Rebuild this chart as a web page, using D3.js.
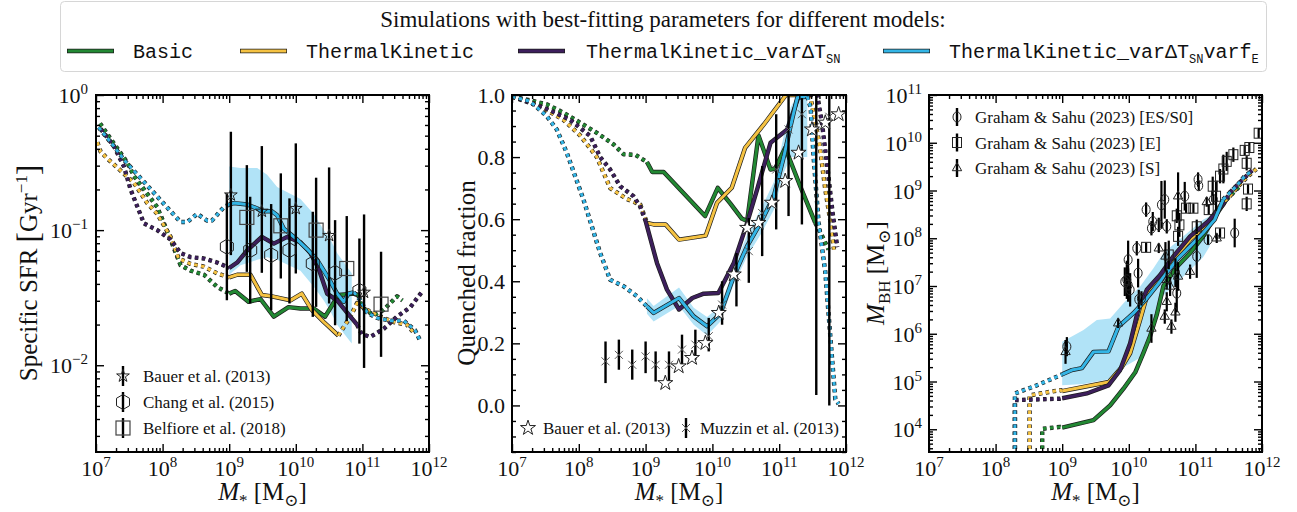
<!DOCTYPE html>
<html>
<head>
<meta charset="utf-8">
<script src="https://cdn.jsdelivr.net/npm/d3@7/dist/d3.min.js"></script>
<style>
  body { margin: 0; background: #fff; }
  text { font-family: "Liberation Serif", "DejaVu Serif", serif; fill: #111; }
  text.mono { font-family: "Liberation Mono", "DejaVu Sans Mono", monospace; }
</style>
</head>
<body>
<svg id="chart" width="1297" height="512"></svg>
<script>
// masses are log10(M*/Msun); sSFR [Gyr^-1] and M_BH [Msun] stored as log10 as well

// ---- panel 1: specific SFR ----
const sfrBasic = [[7.06,-0.21],[7.27,-0.36],[7.47,-0.5],[7.57,-0.6],[7.92,-0.83],[8.12,-1.07],[8.27,-1.26],[8.42,-1.3],[8.62,-1.33],[8.82,-1.42],[9.0,-1.47],[9.09,-1.45],[9.29,-1.53],[9.47,-1.51],[9.67,-1.64],[9.89,-1.57],[10.07,-1.58],[10.27,-1.58],[10.44,-1.64],[10.64,-1.48],[10.87,-1.47],[10.94,-1.48],[10.99,-1.57],[11.17,-1.63],[11.32,-1.59],[11.52,-1.49],[11.6,-1.52]];
const sfrTK = [[7.02,-0.35],[7.07,-0.42],[7.17,-0.47],[7.37,-0.56],[7.57,-0.65],[7.77,-0.8],[7.92,-0.88],[8.12,-1.05],[8.24,-1.21],[8.42,-1.25],[8.62,-1.27],[8.82,-1.32],[9.0,-1.35],[9.12,-1.33],[9.32,-1.33],[9.49,-1.48],[9.64,-1.49],[9.92,-1.52],[10.09,-1.47],[10.24,-1.59],[10.42,-1.68],[10.64,-1.78],[10.69,-1.74],[10.82,-1.64],[10.92,-1.54],[11.07,-1.59],[11.27,-1.64],[11.47,-1.68],[11.67,-1.7],[11.79,-1.77]];
const sfrTKvar = [[7.07,-0.25],[7.27,-0.38],[7.42,-0.53],[7.52,-0.7],[7.72,-0.95],[7.92,-1.0],[8.12,-1.07],[8.27,-1.17],[8.42,-1.2],[8.62,-1.21],[8.82,-1.24],[9.0,-1.28],[9.12,-1.24],[9.27,-1.15],[9.49,-1.05],[9.67,-1.1],[9.87,-1.05],[10.07,-1.09],[10.22,-1.17],[10.34,-1.28],[10.47,-1.47],[10.62,-1.52],[10.77,-1.61],[10.92,-1.7],[10.99,-1.77],[11.12,-1.79],[11.32,-1.73],[11.52,-1.64],[11.72,-1.57],[11.89,-1.46]];
const sfrTKvarFe = [[7.04,-0.24],[7.27,-0.38],[7.42,-0.48],[7.77,-0.67],[8.12,-0.86],[8.27,-0.94],[8.37,-0.94],[8.52,-0.88],[8.67,-0.93],[8.74,-0.93],[8.92,-0.83],[9.0,-0.81],[9.07,-0.8],[9.27,-0.81],[9.42,-0.84],[9.49,-0.86],[9.64,-0.86],[9.72,-0.89],[9.82,-0.99],[10.02,-1.07],[10.17,-1.14],[10.32,-1.22],[10.42,-1.3],[10.52,-1.38],[10.62,-1.47],[10.72,-1.53],[10.79,-1.47],[10.87,-1.46],[10.97,-1.52],[11.07,-1.61],[11.22,-1.65],[11.42,-1.67],[11.62,-1.67],[11.79,-1.74],[11.87,-1.82]];
const sfrSolid = { basic: [9.0, 10.94], tk: [9.0, 10.64], tkVar: [9.0, 10.92], tkVarFe: [9.0, 10.87] };
const sfrBandM = [9.0, 9.17, 9.42, 9.57, 9.72, 10.07, 10.27, 10.42, 10.52, 10.62, 10.84];
const sfrBandHi = [-0.53, -0.54, -0.54, -0.59, -0.68, -0.77, -0.88, -1.0, -1.07, -1.17, -1.32];
const sfrBandLo = [-1.33, -1.26, -1.22, -1.2, -1.22, -1.3, -1.42, -1.52, -1.6, -1.7, -1.84];

const bauerM = [9.025, 9.49, 10.0, 10.5, 11.025];
const bauerSsfr = [-0.74, -0.86, -0.84, -1.04, -1.46];
const bauerLo = [-1.185, -1.316, -1.321, -1.543, -2.02];
const bauerHi = [-0.272, -0.378, -0.358, -0.536, -0.884];
const changM = [8.965, 9.315, 9.63, 9.905, 10.255, 10.59, 10.955];
const changSsfr = [-1.123, -1.148, -1.185, -1.148, -1.247, -1.316, -1.449];
const changLo = [-1.519, -1.543, -1.593, -1.543, -1.642, -1.704, -1.84];
const changHi = [-0.728, -0.753, -0.807, -0.765, -0.864, -0.926, -1.062];
const belfioreM = [9.265, 9.775, 10.305, 10.765, 11.28];
const belfioreSsfr = [-0.906, -0.968, -1.0, -1.284, -1.548];
const belfioreLo = [-1.309, -1.358, -1.568, -1.674, -1.938];
const belfioreHi = [-0.519, -0.58, -0.612, -0.896, -1.16];

// ---- panel 2: quenched fraction ----
const qBasic = [[7.0,0.995],[7.27,0.983],[7.52,0.97],[7.77,0.943],[8.02,0.911],[8.27,0.878],[8.52,0.841],[8.67,0.809],[8.85,0.807],[9.02,0.784],[9.1,0.752],[9.27,0.752],[9.89,0.61],[10.08,0.701],[10.27,0.65],[10.44,0.602],[10.52,0.594],[10.69,0.87],[10.87,0.76],[10.94,0.763],[11.09,0.83],[11.315,0.706],[11.54,0.588],[11.62,0.556],[11.74,0.502]];
const qTK = [[7.0,0.995],[7.37,0.97],[7.77,0.92],[8.02,0.87],[8.27,0.8],[8.47,0.7],[8.72,0.665],[8.92,0.647],[9.02,0.588],[9.12,0.583],[9.3,0.583],[9.5,0.534],[9.9,0.547],[10.07,0.653],[10.29,0.701],[10.49,0.83],[10.77,0.905],[11.07,0.991],[11.1,1.0],[11.44,1.0],[11.47,0.99],[11.6,0.846],[11.69,0.696],[11.77,0.588],[11.82,0.502]];
const qTKvar = [[7.0,0.995],[7.52,0.955],[7.87,0.92],[8.17,0.868],[8.32,0.8],[8.47,0.76],[8.62,0.706],[8.82,0.674],[8.92,0.64],[9.0,0.594],[9.17,0.459],[9.32,0.373],[9.5,0.309],[9.7,0.346],[9.87,0.36],[10.09,0.362],[10.32,0.459],[10.52,0.588],[10.67,0.696],[10.87,0.846],[11.12,0.889],[11.29,0.995],[11.45,1.0],[11.57,1.0],[11.64,0.91],[11.72,0.77],[11.8,0.62],[11.87,0.51]];
const qTKvarFe = [[7.0,0.995],[7.27,0.98],[7.52,0.932],[7.67,0.889],[7.82,0.814],[8.07,0.663],[8.32,0.491],[8.47,0.405],[8.67,0.384],[8.87,0.352],[9.02,0.319],[9.12,0.298],[9.5,0.346],[9.72,0.287],[9.92,0.255],[10.12,0.296],[10.32,0.416],[10.52,0.513],[10.72,0.588],[10.92,0.674],[11.07,0.802],[11.17,0.9],[11.27,0.991],[11.42,0.995],[11.47,0.96],[11.515,0.8],[11.59,0.59],[11.69,0.43],[11.77,0.21],[11.84,0.02],[11.89,0.005]];
const qSolid = { basic: [9.02, 11.54], tk: [9.02, 11.44], tkVar: [9.0, 11.45], tkVarFe: [9.02, 11.42] };
const qBandM = [9.02, 9.12, 9.5, 9.72, 9.92, 10.12, 10.32, 10.52, 10.72, 10.92, 11.07, 11.17, 11.27, 11.42];
const qBandLo = [0.295, 0.27, 0.32, 0.26, 0.225, 0.27, 0.39, 0.48, 0.55, 0.63, 0.75, 0.8, 0.8, 0.8];
const qBandHi = [0.345, 0.32, 0.38, 0.315, 0.285, 0.32, 0.44, 0.55, 0.63, 0.72, 0.87, 0.96, 1.0, 1.0];

const bauerQM = [9.295, 9.495, 9.695, 9.895, 10.095, 10.32, 10.52, 10.69, 10.89, 11.09, 11.29, 11.49, 11.69, 11.89];
const bauerQ = [0.072, 0.126, 0.153, 0.201, 0.298, 0.422, 0.572, 0.588, 0.653, 0.723, 0.814, 0.889, 0.911, 0.938];
const muzzinM = [8.4, 8.6, 8.8, 9.0, 9.15, 9.35, 9.545, 9.745, 9.945, 10.145, 10.36, 10.545, 10.745, 10.955, 11.14, 11.34, 11.555, 11.75];
const muzzinQ = [0.142, 0.163, 0.131, 0.158, 0.131, 0.131, 0.18, 0.196, 0.223, 0.325, 0.416, 0.497, 0.62, 0.76, 0.889, 0.938, 0.9, 0.93];
const muzzinLo = [0.072, 0.115, 0.083, 0.104, 0.077, 0.072, 0.126, 0.147, 0.174, 0.26, 0.319, 0.395, 0.481, 0.567, 0.61, 0.583, 0.034, 0.0];
const muzzinHi = [0.206, 0.212, 0.18, 0.206, 0.174, 0.174, 0.228, 0.244, 0.282, 0.4, 0.491, 0.604, 0.771, 0.938, 0.997, 0.99, 1.0, 1.0];

// ---- panel 3: black hole mass ----
const bhBasic = [[8.7,3.0],[8.7,4.01],[8.97,4.05],[9.0,4.035],[9.47,4.19],[9.72,4.5],[9.92,4.85],[10.1,5.2],[10.22,5.6],[10.32,5.95],[10.42,6.4],[10.52,7.0],[10.72,7.4],[10.92,7.69],[11.115,8.04],[11.265,8.39],[11.465,8.81],[11.565,8.95],[11.665,9.09]];
const bhTK = [[8.51,3.0],[8.51,4.71],[8.97,4.82],[9.0,4.8],[9.7,4.99],[9.9,5.31],[10.02,5.59],[10.17,6.29],[10.27,6.78],[10.47,7.16],[10.67,7.55],[10.92,7.97],[11.17,8.28],[11.365,8.67],[11.515,8.88],[11.665,9.12],[11.815,9.33],[11.915,9.45]];
const bhTKvar = [[8.29,3.0],[8.29,4.61],[8.97,4.64],[9.0,4.65],[9.37,4.75],[9.695,4.92],[9.87,5.24],[10.02,5.8],[10.14,6.5],[10.27,6.92],[10.47,7.23],[10.67,7.62],[10.92,8.04],[11.19,8.35],[11.415,8.7],[11.515,8.95],[11.69,9.2],[11.865,9.44]];
const bhTKvarFe = [[8.29,3.0],[8.29,4.75],[8.62,4.92],[8.97,5.13],[9.0,5.15],[9.145,5.24],[9.295,5.28],[9.47,5.62],[9.695,5.63],[9.845,6.15],[10.07,6.43],[10.27,6.74],[10.49,7.13],[10.72,7.55],[10.92,7.83],[11.115,8.11],[11.29,8.39],[11.415,8.81],[11.465,8.88],[11.615,9.09],[11.74,9.3],[11.84,9.4]];
const bhSolid = { basic: [9.0, 11.465], tk: [9.0, 11.365], tkVar: [9.0, 11.415], tkVarFe: [9.0, 11.415] };
const bhBandM = [9.0, 9.32, 9.52, 9.72, 9.92, 10.17, 10.37, 10.52, 10.82, 11.115, 11.215];
const bhBandHi = [5.83, 6.08, 6.29, 6.32, 6.64, 6.99, 7.37, 7.69, 8.04, 8.39, 8.46];
const bhBandLo = [4.92, 4.95, 5.0, 5.05, 5.3, 5.5, 6.2, 6.8, 7.2, 7.6, 7.83];

// Graham & Sahu (2023): [log M*, log M_BH, error in dex]
const gsEsS0 = [[9.07,5.73,0.2],[9.97,7.13,0.4],[9.99,7.02,0.35],[10.14,7.27,0.3],[10.19,6.74,0.15],[10.12,7.79,0.15],[9.99,7.55,0.4],[9.94,7.09,0.3],[10.02,6.92,0.35],[10.15,6.72,0.2],[10.26,8.6,0.15],[10.36,8.35,0.2],[10.34,8.21,0.15],[10.49,8.7,0.5],[10.54,8.81,0.4],[10.57,8.25,0.15],[10.84,8.88,0.3],[11.04,9.23,0.15],[11.05,9.1,0.1],[11.02,7.62,0.45],[11.19,7.97,0.1],[11.59,8.11,0.3],[10.72,6.85,0.4],[10.45,8.28,0.15],[11.27,8.81,0.1],[10.7,7.28,0.3]];
const gsE = [[10.26,7.81,0.1],[10.72,8.47,0.15],[10.76,8.28,0.25],[10.74,8.04,0.2],[10.86,8.63,0.1],[10.97,8.63,0.1],[11.02,8.24,0.15],[11.37,8.11,0.1],[11.37,9.3,0.15],[11.42,9.45,0.3],[11.47,9.61,0.2],[11.57,9.75,0.15],[11.74,9.84,0.1],[11.77,9.57,0.15],[11.79,9.03,0.1],[11.77,8.72,0.15],[11.81,9.9,0.1],[11.95,10.2,0.1],[11.26,9.09,0.2],[11.31,8.88,0.3],[10.6,7.65,0.3],[11.2,8.6,0.1]];
const gsS = [[9.05,5.62,0.25],[9.84,6.22,0.1],[10.45,7.79,0.1],[10.55,7.62,0.3],[10.92,7.3,0.15],[10.57,7.13,0.2],[10.62,6.99,0.2],[10.57,6.67,0.2],[10.54,6.36,0.15],[10.64,6.15,0.15],[10.34,6.11,0.3],[10.74,7.2,0.3],[10.74,8.88,0.5],[11.17,8.76,0.1],[11.32,8.0,0.1],[10.7,6.45,0.2]];

const modelKeys = ['basic', 'tk', 'tkVar', 'tkVarFe'];
const modelLabels = ['Basic', 'ThermalKinetic', 'ThermalKinetic_varΔT', 'ThermalKinetic_varΔT'];
const colors = { basic: '#228833', tk: '#f5c242', tkVar: '#3d1f5c', tkVarFe: '#33b5e6' };
const bandColor = '#b1e3f7';

const svg = d3.select('#chart');
const frameTop = 95, frameBottom = 452;
const boxes = [{ x0: 96, x1: 429 }, { x0: 512, x1: 846 }, { x0: 929, x1: 1262 }];

function logMinors(lo, hi) {
  const out = [];
  for (let e = Math.floor(Math.log10(lo)); e <= Math.ceil(Math.log10(hi)); e++)
    for (let k = 2; k <= 9; k++) {
      const v = k * Math.pow(10, e);
      if (v > lo && v < hi) out.push(v);
    }
  return out;
}

function makePanel(i, y) {
  const p = boxes[i];
  const x = d3.scaleLog().domain([1e7, 1e12]).range([p.x0, p.x1]);
  y.range([frameBottom, frameTop]);
  svg.append('clipPath').attr('id', 'clip' + i).append('rect')
    .attr('x', p.x0).attr('y', frameTop).attr('width', p.x1 - p.x0).attr('height', frameBottom - frameTop);
  const g = svg.append('g');
  const plot = g.append('g').attr('clip-path', `url(#clip${i})`);
  return { x, y, g, plot, p };
}

function drawFrame(P, yMaj, yMin) {
  const { x, y, g, p } = P;
  const xMaj = [1e7, 1e8, 1e9, 1e10, 1e11, 1e12];
  const xMin = logMinors(1e7, 1e12);
  const tick = (axis, vals, size, tr) => g.append('g').attr('transform', tr)
    .call(axis.tickValues(vals).tickSize(-size).tickFormat(''))
    .call(s => s.select('.domain').remove())
    .selectAll('line').attr('stroke', '#000').attr('stroke-width', 1.4);
  [[xMaj, 8], [xMin, 4]].forEach(([v, s]) => {
    tick(d3.axisBottom(x), v, s, `translate(0,${frameBottom})`);
    tick(d3.axisTop(x), v, s, `translate(0,${frameTop})`);
  });
  [[yMaj, 8], [yMin, 4]].forEach(([v, s]) => {
    tick(d3.axisLeft(y), v, s, `translate(${p.x0},0)`);
    tick(d3.axisRight(y), v, s, `translate(${p.x1},0)`);
  });
  g.append('rect').attr('x', p.x0).attr('y', frameTop).attr('width', p.x1 - p.x0)
    .attr('height', frameBottom - frameTop).attr('fill', 'none').attr('stroke', '#000').attr('stroke-width', 2);
  xMaj.forEach(v => powLabel(g, x(v), frameBottom + 24, Math.round(Math.log10(v)), 'middle'));
}

function powLabel(g, px, py, exp, anchor) {
  const t = g.append('text').attr('x', px).attr('y', py).attr('text-anchor', anchor).attr('font-size', 22);
  t.append('tspan').text('10');
  t.append('tspan').attr('dy', -9).attr('font-size', 15).text(exp < 0 ? '\u2212' + (-exp) : exp);
}

function drawModel(P, pts, range, color, fx, fy) {
  const line = d3.line().x(d => P.x(fx(d[0]))).y(d => P.y(fy(d[1])));
  const segs = [
    [pts.filter(d => d[0] <= range[0]), true],
    [pts.filter(d => d[0] >= range[0] && d[0] <= range[1]), false],
    [pts.filter(d => d[0] >= range[1]), true]
  ];
  segs.forEach(([seg, dotted]) => {
    if (seg.length < 2) return;
    P.plot.append('path').attr('d', line(seg)).attr('fill', 'none')
      .attr('stroke', '#1c1c1c').attr('stroke-width', 4.4)
      .attr('stroke-dasharray', dotted ? '3.5,3.5' : null).attr('stroke-linejoin', 'round');
    P.plot.append('path').attr('d', line(seg)).attr('fill', 'none')
      .attr('stroke', color).attr('stroke-width', 3)
      .attr('stroke-dasharray', dotted ? '3.5,3.5' : null).attr('stroke-linejoin', 'round');
  });
}

function drawBand(P, ms, lo, hi, fx, fy) {
  const area = d3.area().x((d, i) => P.x(fx(ms[i]))).y0((d, i) => P.y(fy(lo[i]))).y1((d, i) => P.y(fy(hi[i])));
  P.plot.append('path').attr('d', area(ms)).attr('fill', bandColor);
}

function hexPath(r) {
  const pts = d3.range(6).map(k => {
    const a = Math.PI / 2 + k * Math.PI / 3;
    return [r * Math.cos(a), r * Math.sin(a)];
  });
  return 'M' + pts.map(p => p.join(',')).join('L') + 'Z';
}

function marker(g, kind, px, py) {
  if (kind === 'star') {
    g.append('path').attr('d', d3.symbol(d3.symbolStar, 50)()).attr('transform', `translate(${px},${py})`)
      .attr('fill', 'none').attr('stroke', '#222').attr('stroke-width', 1);
  } else if (kind === 'starW') {
    g.append('path').attr('d', d3.symbol(d3.symbolStar, 70)()).attr('transform', `translate(${px},${py})`)
      .attr('fill', '#fff').attr('stroke', '#222').attr('stroke-width', 1);
  } else if (kind === 'hex') {
    g.append('path').attr('d', hexPath(7.5)).attr('transform', `translate(${px},${py})`)
      .attr('fill', 'none').attr('stroke', '#222').attr('stroke-width', 1);
  } else if (kind === 'sq') {
    g.append('rect').attr('x', px - 7).attr('y', py - 7).attr('width', 14).attr('height', 14)
      .attr('fill', 'none').attr('stroke', '#444').attr('stroke-width', 1.2);
  } else if (kind === 'x') {
    g.append('path').attr('d', `M${px - 4},${py - 4}L${px + 4},${py + 4}M${px - 4},${py + 4}L${px + 4},${py - 4}`)
      .attr('stroke', '#555').attr('stroke-width', 1);
  } else if (kind === 'o') {
    g.append('ellipse').attr('cx', px).attr('cy', py).attr('rx', 4).attr('ry', 5)
      .attr('fill', 'none').attr('stroke', '#222').attr('stroke-width', 1);
  } else if (kind === 's') {
    g.append('rect').attr('x', px - 4.5).attr('y', py - 5).attr('width', 9).attr('height', 10)
      .attr('fill', 'none').attr('stroke', '#222').attr('stroke-width', 1);
  } else if (kind === '^') {
    g.append('path').attr('d', d3.symbol(d3.symbolTriangle, 38)()).attr('transform', `translate(${px},${py})`)
      .attr('fill', 'none').attr('stroke', '#222').attr('stroke-width', 1);
  }
}

function vbar(g, px, y0, y1, w) {
  g.append('line').attr('x1', px).attr('x2', px).attr('y1', y0).attr('y2', y1)
    .attr('stroke', '#000').attr('stroke-width', w || 2.4);
}

function legendText(g, px, py, txt) {
  g.append('text').attr('x', px).attr('y', py).attr('font-size', 17).attr('fill', '#333').text(txt);
}

const pow10 = v => Math.pow(10, v);
const ident = v => v;

// ================= top legend =================
const leg = svg.append('g');
leg.append('rect').attr('x', 60.5).attr('y', 1.5).attr('width', 1206).attr('height', 70).attr('rx', 4)
  .attr('fill', '#fff').attr('stroke', '#d6d6d6').attr('stroke-width', 1);
leg.append('text').attr('x', 663).attr('y', 27).attr('text-anchor', 'middle').attr('font-size', 23)
  .text('Simulations with best-fitting parameters for different models:');
const legLineX = [67, 240, 518, 883];
const legTextX = [133, 306, 586, 949];
modelKeys.forEach((k, i) => {
  const ly = 51;
  leg.append('line').attr('x1', legLineX[i]).attr('x2', legLineX[i] + 47).attr('y1', ly).attr('y2', ly)
    .attr('stroke', '#1c1c1c').attr('stroke-width', 4.4);
  leg.append('line').attr('x1', legLineX[i] + 0.7).attr('x2', legLineX[i] + 46.3).attr('y1', ly).attr('y2', ly)
    .attr('stroke', colors[k]).attr('stroke-width', 3);
  const t = leg.append('text').attr('class', 'mono').attr('x', legTextX[i]).attr('y', 58).attr('font-size', 20);
  t.append('tspan').text(modelLabels[i]);
  if (i >= 2) {
    t.append('tspan').attr('dy', 5).attr('font-size', 12).text('SN');
    if (i === 3) {
      t.append('tspan').attr('dy', -5).attr('font-size', 20).text('varf');
      t.append('tspan').attr('dy', 5).attr('font-size', 12).text('E');
    }
  }
});

// ================= panel 1 =================
const P1 = makePanel(0, d3.scaleLog().domain([0.00228, 1]));
drawBand(P1, sfrBandM, sfrBandLo, sfrBandHi, pow10, pow10);
[sfrBasic, sfrTK, sfrTKvar, sfrTKvarFe].forEach((c, i) =>
  drawModel(P1, c, sfrSolid[modelKeys[i]], colors[modelKeys[i]], pow10, pow10));
const X1 = v => P1.x(pow10(v)), Y1 = v => P1.y(pow10(v));
changM.forEach((m, i) => vbar(P1.plot, X1(m), Y1(changLo[i]), Y1(changHi[i])));
belfioreM.forEach((m, i) => vbar(P1.plot, X1(m), Y1(belfioreLo[i]), Y1(belfioreHi[i])));
bauerM.forEach((m, i) => vbar(P1.plot, X1(m), Y1(bauerLo[i]), Y1(bauerHi[i])));
changM.forEach((m, i) => marker(P1.plot, 'hex', X1(m), Y1(changSsfr[i])));
belfioreM.forEach((m, i) => marker(P1.plot, 'sq', X1(m), Y1(belfioreSsfr[i])));
bauerM.forEach((m, i) => marker(P1.plot, 'star', X1(m), Y1(bauerSsfr[i])));
drawFrame(P1, [1e-2, 1e-1, 1], logMinors(0.00228, 1));
[0, -1, -2].forEach(e => powLabel(P1.g, P1.p.x0 - 8, P1.y(pow10(e)) + 8, e, 'end'));
[['star', 'Bauer et al. (2013)'], ['hex', 'Chang et al. (2015)'], ['sq', 'Belfiore et al. (2018)']].forEach(([k, t], i) => {
  const ly = 376 + i * 26;
  vbar(P1.g, 123, ly - 10, ly + 10);
  marker(P1.g, k, 123, ly);
  legendText(P1.g, 143, ly + 6, t);
});

// ================= panel 2 =================
const P2 = makePanel(1, d3.scaleLinear().domain([-0.15, 1.0]));
drawBand(P2, qBandM, qBandLo, qBandHi, pow10, ident);
[qBasic, qTK, qTKvar, qTKvarFe].forEach((c, i) =>
  drawModel(P2, c, qSolid[modelKeys[i]], colors[modelKeys[i]], pow10, ident));
const X2 = v => P2.x(pow10(v));
muzzinM.forEach((m, i) => vbar(P2.plot, X2(m), P2.y(muzzinLo[i]), P2.y(muzzinHi[i])));
muzzinM.forEach((m, i) => marker(P2.plot, 'x', X2(m), P2.y(muzzinQ[i])));
bauerQM.forEach((m, i) => marker(P2.plot, 'starW', X2(m), P2.y(bauerQ[i])));
drawFrame(P2, d3.range(0, 1.01, 0.2), d3.range(-0.15, 1.0, 0.05).filter(v => Math.abs(v * 5 - Math.round(v * 5)) > 1e-6));
d3.range(0, 1.01, 0.2).forEach(v => P2.g.append('text').attr('x', P2.p.x0 - 7).attr('y', P2.y(v) + 8)
  .attr('text-anchor', 'end').attr('font-size', 22).text(v.toFixed(1)));
marker(P2.g, 'starW', 528, 428);
legendText(P2.g, 543, 434, 'Bauer et al. (2013)');
vbar(P2.g, 686, 418, 438);
marker(P2.g, 'x', 686, 428);
legendText(P2.g, 700, 434, 'Muzzin et al. (2013)');

// ================= panel 3 =================
const P3 = makePanel(2, d3.scaleLog().domain([3340, 1e11]));
drawBand(P3, bhBandM, bhBandLo, bhBandHi, pow10, pow10);
[bhBasic, bhTK, bhTKvar, bhTKvarFe].forEach((c, i) =>
  drawModel(P3, c, bhSolid[modelKeys[i]], colors[modelKeys[i]], pow10, pow10));
const X3 = v => P3.x(pow10(v)), Y3 = v => P3.y(pow10(v));
[[gsEsS0, 'o'], [gsE, 's'], [gsS, '^']].forEach(([pts, k]) => {
  pts.forEach(d => vbar(P3.plot, X3(d[0]), Y3(d[1] - d[2]), Y3(d[1] + d[2]), 2.2));
  pts.forEach(d => marker(P3.plot, k, X3(d[0]), Y3(d[1])));
});
drawFrame(P3, d3.range(4, 12).map(pow10), logMinors(3340, 1e11));
d3.range(4, 12).forEach(e => powLabel(P3.g, P3.p.x0 - 7, P3.y(pow10(e)) + 8, e, 'end'));
[['o', 'Graham & Sahu (2023) [ES/S0]'], ['s', 'Graham & Sahu (2023) [E]'], ['^', 'Graham & Sahu (2023) [S]']].forEach(([k, t], i) => {
  const ly = 117 + i * 25.5;
  vbar(P3.g, 957, ly - 9, ly + 9);
  marker(P3.g, k, 957, ly);
  legendText(P3.g, 975, ly + 6, t);
});

// ================= axis titles =================
boxes.forEach(b => {
  const t = svg.append('text').attr('x', (b.x0 + b.x1) / 2).attr('y', 500).attr('text-anchor', 'middle').attr('font-size', 25);
  t.append('tspan').attr('font-style', 'italic').text('M');
  t.append('tspan').attr('dy', 6).attr('font-size', 17).text('*');
  t.append('tspan').attr('dy', -6).text(' [M');
  t.append('tspan').attr('dy', 6).attr('font-size', 17).text('\u2299');
  t.append('tspan').attr('dy', -6).text(']');
});

const yl1 = svg.append('text').attr('transform', 'translate(37,273) rotate(-90)').attr('text-anchor', 'middle').attr('font-size', 25);
yl1.append('tspan').text('Specific SFR ');
yl1.append('tspan').attr('font-size', 31).attr('dy', 2).text('[');
yl1.append('tspan').attr('dy', -2).text('Gyr');
yl1.append('tspan').attr('dy', -10).attr('font-size', 17).text('\u22121');
yl1.append('tspan').attr('dy', 12).attr('font-size', 31).text(']');

svg.append('text').attr('transform', 'translate(475,273) rotate(-90)').attr('text-anchor', 'middle')
  .attr('font-size', 25).text('Quenched fraction');

const yl3 = svg.append('text').attr('transform', 'translate(884,273) rotate(-90)').attr('text-anchor', 'middle').attr('font-size', 25);
yl3.append('tspan').attr('font-style', 'italic').text('M');
yl3.append('tspan').attr('dy', 6).attr('font-size', 17).text('BH');
yl3.append('tspan').attr('dy', -6).text(' [M');
yl3.append('tspan').attr('dy', 6).attr('font-size', 17).text('\u2299');
yl3.append('tspan').attr('dy', -6).text(']');
</script>
</body>
</html>
